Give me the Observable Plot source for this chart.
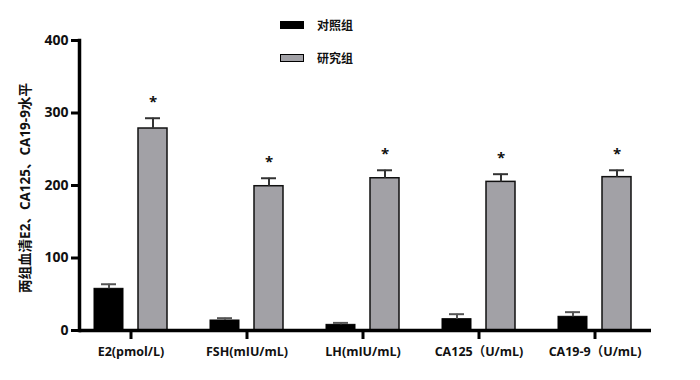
<!DOCTYPE html>
<html>
<head>
<meta charset="utf-8">
<script src="https://cdn.jsdelivr.net/npm/d3@7"></script>
<script src="https://cdn.jsdelivr.net/npm/@observablehq/plot@0.6"></script>
<style>
  html, body { margin: 0; padding: 0; background: #fff; }
  #wrap { position: relative; width: 700px; height: 380px; font-family: "Open Sans", "Noto Sans CJK SC", sans-serif; }
  #legend { position: absolute; left: 280px; top: 17px; font-size: 12px; font-weight: bold; color: #111; }
  .item { display: flex; align-items: center; height: 16px; margin-bottom: 17px; }
  .sw { width: 22px; height: 6px; margin-right: 13px; border: 1px solid #000; }
</style>
</head>
<body>
<div id="wrap">
  <div id="chart"></div>
  <div id="legend"></div>
</div>
<script>
const categories = ["E2(pmol/L)", "FSH(mIU/mL)", "LH(mIU/mL)", "CA125（U/mL)", "CA19-9（U/mL)"];
const groups = ["对照组", "研究组"];
const ctrlMean = [57.5, 13.8, 7.8, 15.6, 18.9];
const ctrlUpper = [63.8, 17, 10.5, 22.5, 25.3];
const studyMean = [278.6, 199, 210, 205, 211.5];
const studyUpper = [292.8, 210, 221, 215.6, 221];
const stars = ["*", "*", "*", "*", "*"];
const yTicks = [0, 100, 200, 300, 400];
const yLabel = "两组血清E2、CA125、CA19-9水平";

const data = categories.map((c, i) => ({
  cat: c, ctrl: ctrlMean[i], ctrlU: ctrlUpper[i], study: studyMean[i], studyU: studyUpper[i], star: stars[i]
}));

const font = "'Open Sans', 'Noto Sans CJK SC', sans-serif";

const chart = Plot.plot({
  width: 700,
  height: 380,
  marginLeft: 79,
  marginRight: 49,
  marginTop: 40,
  marginBottom: 50,
  style: { fontFamily: font, fontWeight: "bold", fontSize: "12px", color: "#111", background: "#fff" },
  x: { type: "band", domain: categories, paddingInner: 0.375, paddingOuter: 0.1375, align: 0.42, label: null },
  y: { domain: [0, 400], label: null },
  marks: [
    Plot.barY(data, { x: "cat", y: "ctrl", fill: "#000", stroke: "#000", strokeWidth: 1, insetRight: 44 }),
    Plot.barY(data, { x: "cat", y: "study", fill: "#a2a1a6", stroke: "#111", strokeWidth: 1.5, insetLeft: 44 }),
    Plot.ruleX(data, { x: "cat", y1: "ctrl", y2: "ctrlU", dx: -22, stroke: "#555", strokeWidth: 2 }),
    Plot.tickY(data, { x: "cat", y: "ctrlU", insetLeft: 7, insetRight: 51, stroke: "#555", strokeWidth: 2 }),
    Plot.ruleX(data, { x: "cat", y1: "study", y2: "studyU", dx: 22, stroke: "#333", strokeWidth: 2 }),
    Plot.tickY(data, { x: "cat", y: "studyU", insetLeft: 51, insetRight: 7, stroke: "#333", strokeWidth: 2 }),
    Plot.text(data, { x: "cat", y: "studyU", text: "star", dx: 22, dy: -16, fontSize: 15, fontWeight: "bold", fill: "#111" }),
    Plot.axisY({ ticks: yTicks, tickSize: 8, strokeWidth: 3, tickPadding: 3, fontSize: 14, fontWeight: "bold", label: null, stroke: "#000" }),
    Plot.axisX({ tickSize: 9, strokeWidth: 3, tickPadding: 8, fontSize: 12.5, fontWeight: "bold", label: null, stroke: "#000" }),
    Plot.ruleY([0], { stroke: "#000", strokeWidth: 3.5 }),
    Plot.frame({ anchor: "left", stroke: "#000", strokeWidth: 3.5 })
  ]
});
document.getElementById("chart").appendChild(chart);

// rotated y label
const svg = d3.select(chart);
svg.append("text")
  .attr("transform", "translate(30,188) rotate(-90)")
  .attr("text-anchor", "middle")
  .attr("font-size", 13.5)
  .attr("font-weight", "bold")
  .attr("fill", "#111")
  .text(yLabel);

// legend
const fills = ["#000", "#a2a1a6"];
const legend = d3.select("#legend");
groups.forEach((g, i) => {
  const it = legend.append("div").attr("class", "item");
  it.append("div").attr("class", "sw").style("background", fills[i]);
  it.append("span").text(g);
});
</script>
</body>
</html>
